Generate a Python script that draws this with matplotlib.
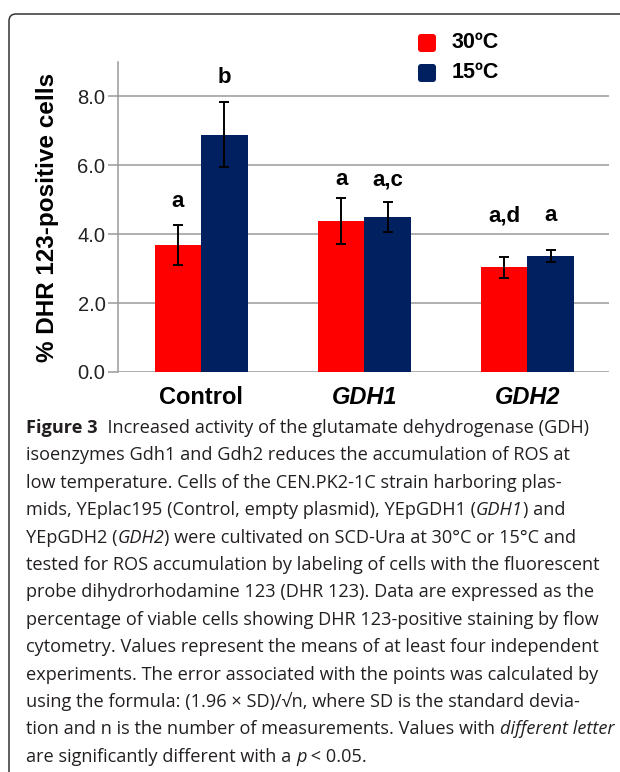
import matplotlib.pyplot as plt
import numpy as np
from matplotlib.patches import FancyBboxPatch
from matplotlib.transforms import IdentityTransform

# data
groups = ['Control', 'GDH1', 'GDH2']
temps = ['30ºC', '15ºC']
mean_30 = [3.69, 4.38, 3.04]
mean_15 = [6.89, 4.50, 3.36]
err_30 = [0.58, 0.67, 0.30]
err_15 = [0.95, 0.43, 0.17]
letters_30 = ['a', 'a', 'a,d']
letters_15 = ['b', 'a,c', 'a']
letter_y_30 = [4.94, 5.58, 4.53]
letter_y_15 = [8.55, 5.58, 4.53]
yticks = [0.0, 2.0, 4.0, 6.0, 8.0]

red = '#ff0000'
navy = '#00205f'

fig = plt.figure(figsize=(6.2, 7.72), dpi=100)
ax = fig.add_axes([118/620, 1-372/772, 491/620, 310/772])

x = np.arange(len(groups))
w = 0.285
ax.bar(x - w/2, mean_30, w, color=red, zorder=3)
ax.bar(x + w/2, mean_15, w, color=navy, zorder=3)
ax.errorbar(x - w/2, mean_30, yerr=err_30, fmt='none', ecolor='black',
            elinewidth=1.4, capsize=3.8, capthick=1.4, zorder=4)
ax.errorbar(x + w/2, mean_15, yerr=err_15, fmt='none', ecolor='black',
            elinewidth=1.4, capsize=3.8, capthick=1.4, zorder=4)

for i in range(len(groups)):
    ax.text(x[i] - w/2, letter_y_30[i], letters_30[i], ha='center', va='center',
            fontsize=16, fontweight='bold', family='Liberation Sans')
    ax.text(x[i] + w/2, letter_y_15[i], letters_15[i], ha='center', va='center',
            fontsize=16, fontweight='bold', family='Liberation Sans')

ax.set_xlim(-0.51, 2.5)
ax.set_ylim(0, 9)
ax.set_yticks(yticks)
ax.set_yticklabels(['%.1f' % v for v in yticks], family='Liberation Sans',
                   fontsize=14.5, color='#222222')
ax.yaxis.grid(True, color='#9a9a9a', linewidth=1.1, zorder=0)
ax.set_axisbelow(True)
ax.tick_params(axis='y', length=7, width=1.1, color='#9a9a9a', pad=2)
ax.tick_params(axis='x', length=0, pad=10)
ax.set_xticks(x)
ax.set_xticklabels(groups, fontsize=17, fontweight='bold', family='Liberation Sans')
for lab in ax.get_xticklabels()[1:]:
    lab.set_style('italic')
for s in ['top', 'right', 'bottom']:
    ax.spines[s].set_visible(False)
ax.spines['left'].set_color('#9a9a9a')
ax.spines['left'].set_linewidth(1.1)
ax.set_ylabel('% DHR 123-positive cells', fontsize=17.5, fontweight='bold',
              family='Liberation Sans', labelpad=13)

# legend drawn by hand in pixel positions
for k, (lab, col) in enumerate(zip(temps, [red, navy])):
    y0 = 772 - 52 - k*30
    fig.patches.append(FancyBboxPatch((418, y0), 18, 18, boxstyle='round,pad=0,rounding_size=3',
                                      transform=IdentityTransform(), facecolor=col,
                                      edgecolor='none', figure=fig))
    fig.text(452/620, (y0 + 9)/772, lab, fontsize=15.5, fontweight='bold',
             family='Liberation Sans', va='center', ha='left')

# frame around the figure panel
fig.patches.append(FancyBboxPatch((9, -40), 700, 772 - 14 + 40,
                                  boxstyle='round,pad=0,rounding_size=7',
                                  transform=IdentityTransform(), facecolor='none',
                                  edgecolor='#333333', linewidth=1.1, figure=fig))

# caption
cap_lines = [
    [('Figure 3', 'bold'), ('  Increased activity of the glutamate dehydrogenase (GDH)', 'normal')],
    [('isoenzymes Gdh1 and Gdh2 reduces the accumulation of ROS at', 'normal')],
    [('low temperature. Cells of the CEN.PK2-1C strain harboring plas-', 'normal')],
    [('mids, YEplac195 (Control, empty plasmid), YEpGDH1 (', 'normal'), ('GDH1', 'italic'), (') and', 'normal')],
    [('YEpGDH2 (', 'normal'), ('GDH2', 'italic'), (') were cultivated on SCD-Ura at 30°C or 15°C and', 'normal')],
    [('tested for ROS accumulation by labeling of cells with the fluorescent', 'normal')],
    [('probe dihydrorhodamine 123 (DHR 123). Data are expressed as the', 'normal')],
    [('percentage of viable cells showing DHR 123-positive staining by flow', 'normal')],
    [('cytometry. Values represent the means of at least four independent', 'normal')],
    [('experiments. The error associated with the points was calculated by', 'normal')],
    [('using the formula: (1.96 × SD)/√n, where SD is the standard devia-', 'normal')],
    [('tion and n is the number of measurements. Values with ', 'normal'), ('different letter', 'italic')],
    [('are significantly different with a ', 'normal'), ('p', 'italic'), (' < 0.05.', 'normal')],
]
cap_font = ['Open Sans', 'DejaVu Sans']
cap_size = 13.1
renderer = fig.canvas.get_renderer()
for i, segs in enumerate(cap_lines):
    xp = 26
    yp = 772 - (433 + i*27.4)
    for txt, st in segs:
        t = fig.text(xp/620, yp/772, txt, fontsize=cap_size, family=cap_font,
                     color='#231f20', va='baseline', ha='left',
                     fontweight='bold' if st == 'bold' else 'normal',
                     style='italic' if st == 'italic' else 'normal')
        bb = t.get_window_extent(renderer)
        xp = bb.x1

fig.savefig('out.png', dpi=100)
